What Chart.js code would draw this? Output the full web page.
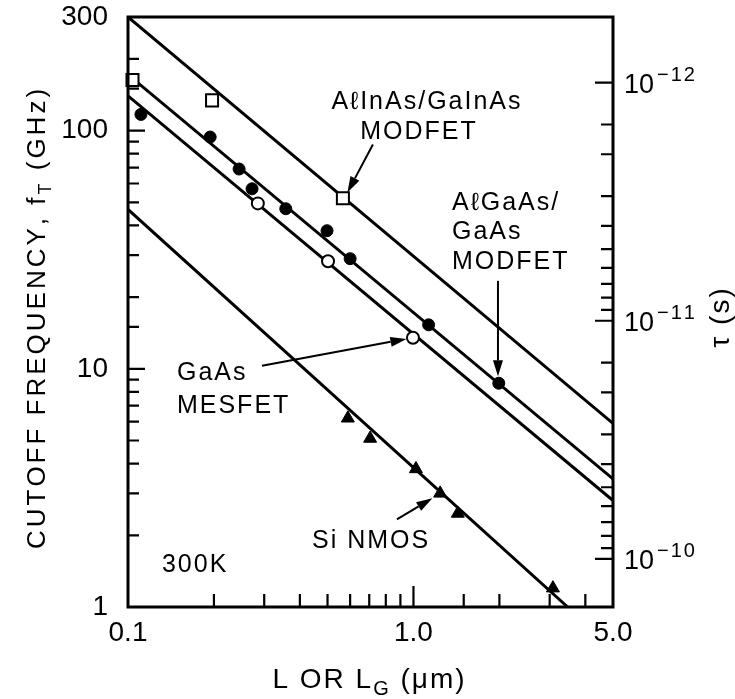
<!DOCTYPE html>
<html>
<head>
<meta charset="utf-8">
<script src="https://cdn.jsdelivr.net/npm/chart.js@4.4.0/dist/chart.umd.min.js"></script>
<style>
  html, body { margin: 0; padding: 0; background: #fff; }
  canvas { display: block; }
</style>
</head>
<body>
<canvas id="myChart" width="735" height="699"></canvas>
<script>
// gate length L (um) vs cutoff frequency fT (GHz)
const alInAsL = [0.1037, 0.197, 0.566];
const alInAsF = [163, 134, 52];

const alGaAsL = [0.111, 0.194, 0.245, 0.272, 0.357, 0.498, 0.600, 1.13, 1.99];
const alGaAsF = [117, 94, 69, 57, 47, 38, 29, 15.3, 8.7];

const mesfetL = [0.285, 0.502, 0.996];
const mesfetF = [49.5, 28.3, 13.5];

const nmosL = [0.589, 0.705, 1.02, 1.24, 1.43, 3.08];
const nmosF = [6.2, 5.1, 3.8, 3.0, 2.47, 1.2];

// straight fit lines (end points)
const fitAlInAs = [[0.1, 300], [5, 5.9]];
const fitAlGaAs = [[0.1, 172], [5, 3.45]];
const fitMesfet = [[0.1, 140], [5, 2.8]];
const fitNmos = [[0.1, 46.7], [3.47, 1]];

// tick labels
const xTickVals = [0.1, 1, 5];
const xTickText = ['0.1', '1.0', '5.0'];
const yTickVals = [1, 10, 100, 300];
const yTickText = ['1', '10', '100', '300'];
const tauTickVals = [1e-12, 1e-11, 1e-10];
const tauTickExp = ['\u221212', '\u221211', '\u221210'];

// text on the plot, placed in data units (L, fT)
const notes = [
  { text: 'A\u2113InAs/GaInAs', L: 1.106, f: 123.6, align: 'center' },
  { text: 'MODFET', L: 1.037, f: 92.6, align: 'center' },
  { text: 'A\u2113GaAs/', L: 1.364, f: 46.3, align: 'left' },
  { text: 'GaAs', L: 1.364, f: 35.0, align: 'left' },
  { text: 'MODFET', L: 1.364, f: 26.2, align: 'left' },
  { text: 'GaAs', L: 0.1484, f: 8.99, align: 'left' },
  { text: 'MESFET', L: 0.1484, f: 6.54, align: 'left' },
  { text: 'Si NMOS', L: 0.441, f: 1.766, align: 'left' },
  { text: '300K', L: 0.1315, f: 1.40, align: 'left' }
];
const arrows = [
  { from: [0.721, 87.4], to: [0.587, 55.0] },
  { from: [1.977, 23.4], to: [1.977, 9.3] },
  { from: [0.2947, 10.3], to: [0.945, 13.35] },
  { from: [0.875, 2.335], to: [1.165, 2.86] }
];

const FONT = '"Liberation Sans", Arial, sans-serif';
const pts = (xs, ys) => xs.map((x, i) => ({ x: x, y: ys[i] }));
const seg = arr => arr.map(p => ({ x: p[0], y: p[1] }));
const same = (a, b) => Math.abs(a - b) <= Math.abs(b) * 1e-6;
const isDecade = v => Math.abs(Math.log10(v) - Math.round(Math.log10(v))) < 1e-6;
const pick = (v, vals, txt) => {
  const i = vals.findIndex(k => same(v, k));
  return i < 0 ? '' : txt[i];
};

// tau = 1/(2 pi fT), fT range of left axis 1..300 GHz
const tauTop = 1 / (2 * Math.PI * 300e9);
const tauBottom = 1 / (2 * Math.PI * 1e9);

// draw text char by char so letters can be spaced out like the lettering
function drawRich(ctx, segs, x, y, sp, align) {
  let total = 0;
  segs.forEach(s => {
    ctx.font = s.size + 'px ' + FONT;
    for (const ch of s.t) total += ctx.measureText(ch).width + sp;
  });
  total -= sp;
  let cx = align === 'center' ? x - total / 2 : x;
  segs.forEach(s => {
    ctx.font = s.size + 'px ' + FONT;
    for (const ch of s.t) {
      ctx.fillText(ch, cx, y + (s.dy || 0));
      cx += ctx.measureText(ch).width + sp;
    }
  });
}

function arrow(ctx, x1, y1, x2, y2, head, half) {
  const ang = Math.atan2(y2 - y1, x2 - x1);
  const bx = x2 - head * Math.cos(ang), by = y2 - head * Math.sin(ang);
  ctx.beginPath();
  ctx.moveTo(x1, y1);
  ctx.lineTo(bx, by);
  ctx.stroke();
  ctx.beginPath();
  ctx.moveTo(x2, y2);
  ctx.lineTo(bx + half * Math.sin(ang), by - half * Math.cos(ang));
  ctx.lineTo(bx - half * Math.sin(ang), by + half * Math.cos(ang));
  ctx.closePath();
  ctx.fill();
}

const decor = {
  id: 'decor',
  afterDraw(chart) {
    const { ctx, chartArea: a, scales } = chart;
    const sx = scales.x, sy = scales.y, st = scales.y2;
    ctx.save();
    ctx.strokeStyle = '#000';
    ctx.fillStyle = '#000';
    ctx.lineCap = 'butt';

    // inward tick marks
    ctx.lineWidth = 2.2;
    ctx.beginPath();
    sx.ticks.forEach(t => {
      const p = sx.getPixelForValue(t.value);
      if (p <= a.left + 2 || p >= a.right - 2) return;
      const len = isDecade(t.value) ? 21 : 13;
      ctx.moveTo(p, a.bottom);
      ctx.lineTo(p, a.bottom - len);
    });
    sy.ticks.forEach(t => {
      const p = sy.getPixelForValue(t.value);
      if (p <= a.top + 2 || p >= a.bottom - 2) return;
      const len = isDecade(t.value) ? 17 : 11;
      ctx.moveTo(a.left, p);
      ctx.lineTo(a.left + len, p);
    });
    st.ticks.forEach(t => {
      if (t.value < 0.99e-12 || t.value > 1.01e-10) return;
      const p = st.getPixelForValue(t.value);
      const len = isDecade(t.value) ? 18 : 12;
      ctx.moveTo(a.right, p);
      ctx.lineTo(a.right - len, p);
    });
    ctx.stroke();

    // frame
    ctx.lineWidth = 3;
    ctx.strokeRect(a.left, a.top, a.right - a.left, a.bottom - a.top);

    // right axis labels 10^-n
    ctx.textAlign = 'left';
    ctx.textBaseline = 'alphabetic';
    tauTickVals.forEach((v, i) => {
      const p = st.getPixelForValue(v);
      ctx.font = '27px ' + FONT;
      ctx.fillText('10', a.right + 11, p + 10);
      const w = ctx.measureText('10').width;
      drawRich(ctx, [{ t: tauTickExp[i], size: 20 }], a.right + 14 + w, p - 2, 2, 'left');
    });

    // annotations
    notes.forEach(n => {
      drawRich(ctx, [{ t: n.text, size: 25 }], sx.getPixelForValue(n.L), sy.getPixelForValue(n.f), 2, n.align);
    });
    ctx.lineWidth = 2;
    arrows.forEach(r => {
      arrow(ctx, sx.getPixelForValue(r.from[0]), sy.getPixelForValue(r.from[1]),
        sx.getPixelForValue(r.to[0]), sy.getPixelForValue(r.to[1]), 16, 5);
    });

    // axis titles
    drawRich(ctx, [{ t: 'L OR L', size: 28 }, { t: 'G', size: 20, dy: 7 }, { t: ' (\u03bcm)', size: 28 }],
      (a.left + a.right) / 2 - 2, 688, 2, 'center');

    ctx.save();
    ctx.translate(45, 319);
    ctx.rotate(-Math.PI / 2);
    drawRich(ctx, [{ t: 'CUTOFF FREQUENCY, f', size: 26 }, { t: 'T', size: 18, dy: 6 }, { t: ' (GHz)', size: 26 }],
      0, 0, 3, 'center');
    ctx.restore();

    ctx.save();
    ctx.translate(729, 318);
    ctx.rotate(-Math.PI / 2);
    drawRich(ctx, [{ t: '\u03c4 (s)', size: 28 }], 0, 0, 2, 'center');
    ctx.restore();

    ctx.restore();
  }
};

const fitStyle = { showLine: true, pointRadius: 0, borderColor: '#000', borderWidth: 3, fill: false };

let myChart = document.getElementById('myChart').getContext('2d');

const chart = new Chart(myChart, {
  type: 'scatter',
  data: {
    datasets: [
      { label: 'AlInAs/GaInAs MODFET', data: pts(alInAsL, alInAsF), pointStyle: 'rect', pointRadius: 8.5,
        backgroundColor: '#fff', borderColor: '#000', borderWidth: 2, clip: false },
      { label: 'AlGaAs/GaAs MODFET', data: pts(alGaAsL, alGaAsF), pointStyle: 'circle', pointRadius: 6,
        backgroundColor: '#000', borderColor: '#000', borderWidth: 1, clip: false },
      { label: 'GaAs MESFET', data: pts(mesfetL, mesfetF), pointStyle: 'circle', pointRadius: 6,
        backgroundColor: '#fff', borderColor: '#000', borderWidth: 2, clip: false },
      { label: 'Si NMOS', data: pts(nmosL, nmosF), pointStyle: 'triangle', pointRadius: 7.5,
        backgroundColor: '#000', borderColor: '#000', borderWidth: 1, clip: false },
      Object.assign({ label: 'fit 1', data: seg(fitAlInAs) }, fitStyle),
      Object.assign({ label: 'fit 2', data: seg(fitAlGaAs) }, fitStyle),
      Object.assign({ label: 'fit 3', data: seg(fitMesfet) }, fitStyle),
      Object.assign({ label: 'fit 4', data: seg(fitNmos) }, fitStyle)
    ]
  },
  options: {
    responsive: false,
    animation: false,
    devicePixelRatio: 1,
    layout: { padding: { top: 17, left: 0, right: 0, bottom: 0 } },
    plugins: {
      legend: { display: false },
      tooltip: { enabled: false }
    },
    scales: {
      x: {
        type: 'logarithmic',
        position: 'bottom',
        min: 0.1,
        max: 5,
        grid: { display: false, drawTicks: false },
        border: { display: false },
        ticks: {
          autoSkip: false, maxRotation: 0, padding: 9, color: '#000',
          font: { size: 28, family: FONT },
          callback: v => pick(v, xTickVals, xTickText)
        },
        // fixed box so the plot area sits where the figure has it
        afterFit: s => { s.height = 92; s.paddingLeft = 0; s.paddingRight = 0; }
      },
      y: {
        type: 'logarithmic',
        position: 'left',
        min: 1,
        max: 300,
        grid: { display: false, drawTicks: false },
        border: { display: false },
        ticks: {
          autoSkip: false, padding: 20, color: '#000',
          font: { size: 28, family: FONT },
          callback: v => pick(v, yTickVals, yTickText)
        },
        afterFit: s => { s.width = 128; s.paddingTop = 0; s.paddingBottom = 0; }
      },
      y2: {
        type: 'logarithmic',
        position: 'right',
        reverse: true,
        min: tauTop,
        max: tauBottom,
        grid: { display: false, drawTicks: false },
        border: { display: false },
        ticks: { display: false },
        afterFit: s => { s.width = 122; s.paddingTop = 0; s.paddingBottom = 0; }
      }
    }
  },
  plugins: [decor]
});
</script>
</body>
</html>
